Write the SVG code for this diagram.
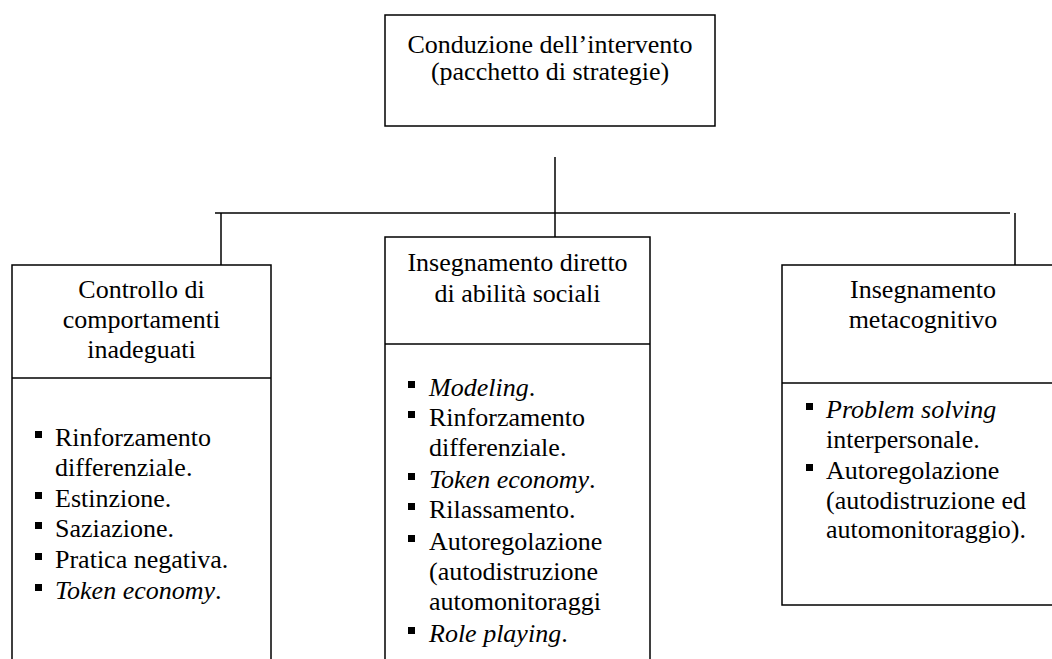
<svg xmlns="http://www.w3.org/2000/svg" width="1052" height="659" viewBox="0 0 1052 659">
<style>
.box{fill:#fff;stroke:#000;stroke-width:1.5}
.ln{stroke:#000;stroke-width:1.5;fill:none}
text{font-family:"Liberation Serif","DejaVu Serif","Times New Roman",serif;font-size:26px;fill:#000}
.c{text-anchor:middle}
.i{font-style:italic}
.b{fill:#000}
</style>
<defs><rect id="bul" width="7" height="7" class="b"/></defs>
<rect width="1052" height="659" fill="#fff"/>
<g id="connectors">
<line class="ln" x1="555" y1="157" x2="555" y2="237"/>
<line class="ln" x1="215" y1="213" x2="1010" y2="213"/>
<line class="ln" x1="221" y1="213" x2="221" y2="265"/>
<line class="ln" x1="1015" y1="213" x2="1015" y2="265"/>
</g>
<g id="root">
<rect class="box" x="385" y="15" width="330" height="111"/>
<text class="c" x="550" y="53">Conduzione dell’intervento</text>
<text class="c" x="550" y="80">(pacchetto di strategie)</text>
</g>
<g id="controllo">
<rect class="box" x="12" y="265" width="259" height="420"/>
<line class="ln" x1="12" y1="378" x2="271" y2="378"/>
<text class="c" x="141.5" y="298">Controllo di</text>
<text class="c" x="141.5" y="328">comportamenti</text>
<text class="c" x="141.5" y="358">inadeguati</text>
<use href="#bul" x="35" y="431"/><text x="55" y="446">Rinforzamento</text>
<text x="55" y="476">differenziale.</text>
<use href="#bul" x="35" y="492"/><text x="55" y="507">Estinzione.</text>
<use href="#bul" x="35" y="522"/><text x="55" y="537">Saziazione.</text>
<use href="#bul" x="35" y="553"/><text x="55" y="568">Pratica negativa.</text>
<use href="#bul" x="35" y="584"/><text x="55" y="599"><tspan class="i">Token economy</tspan>.</text>
</g>
<g id="insegnamento-diretto">
<rect class="box" x="385" y="237" width="265" height="450"/>
<line class="ln" x1="385" y1="344" x2="650" y2="344"/>
<text class="c" x="517.5" y="271">Insegnamento diretto</text>
<text class="c" x="517.5" y="302">di abilità sociali</text>
<use href="#bul" x="408" y="381"/><text x="429" y="396"><tspan class="i">Modeling</tspan>.</text>
<use href="#bul" x="408" y="411"/><text x="429" y="426">Rinforzamento</text>
<text x="429" y="456">differenziale.</text>
<use href="#bul" x="408" y="473"/><text x="429" y="488"><tspan class="i">Token economy</tspan>.</text>
<use href="#bul" x="408" y="503"/><text x="429" y="518">Rilassamento.</text>
<use href="#bul" x="408" y="535"/><text x="429" y="550">Autoregolazione</text>
<text x="429" y="580">(autodistruzione</text>
<text x="429" y="610">automonitoraggi</text>
<use href="#bul" x="408" y="627"/><text x="429" y="642"><tspan class="i">Role playing</tspan>.</text>
</g>
<g id="metacognitivo">
<rect class="box" x="782" y="265" width="300" height="340"/>
<line class="ln" x1="782" y1="383" x2="1082" y2="383"/>
<text class="c" x="923" y="298">Insegnamento</text>
<text class="c" x="923" y="328">metacognitivo</text>
<use href="#bul" x="806" y="403"/><text x="826" y="418"><tspan class="i">Problem solving</tspan></text>
<text x="826" y="448">interpersonale.</text>
<use href="#bul" x="806" y="464"/><text x="826" y="479">Autoregolazione</text>
<text x="826" y="509">(autodistruzione ed</text>
<text x="826" y="538">automonitoraggio).</text>
</g>
</svg>
